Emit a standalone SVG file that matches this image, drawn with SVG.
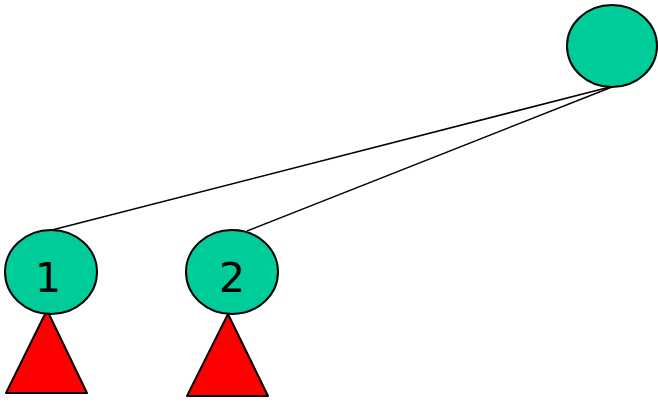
<svg xmlns="http://www.w3.org/2000/svg" width="658" height="402" viewBox="0 0 658 402">
<style>
.node{fill:#00CC99;stroke:#000;stroke-width:2}
.tri{fill:#FF0000;stroke:#000;stroke-width:2;stroke-linejoin:round}
.edge{stroke:#000;stroke-width:1.5;fill:none}
.lbl{font-family:"Comic Sans MS","DejaVu Sans",sans-serif;font-size:41px;fill:#000;text-anchor:middle}
</style>
<rect width="658" height="402" fill="#fff"/>
<g id="connectors">
<line class="edge" x1="610" y1="87" x2="52" y2="230"/>
<line class="edge" x1="612" y1="87" x2="247" y2="231"/>
</g>
<g id="root">
<ellipse class="node" cx="612" cy="46" rx="45" ry="41"/>
</g>
<g id="tri1">
<polygon class="tri" points="47,310 87,393 6,393"/>
</g>
<g id="tri2">
<polygon class="tri" points="228,314 268,396 187,396"/>
</g>
<g id="node1">
<ellipse class="node" cx="51" cy="272" rx="46" ry="42"/>
<text class="lbl" x="48" y="292">1</text>
</g>
<g id="node2">
<ellipse class="node" cx="232" cy="272" rx="46" ry="42"/>
<text class="lbl" x="232" y="292">2</text>
</g>
</svg>
